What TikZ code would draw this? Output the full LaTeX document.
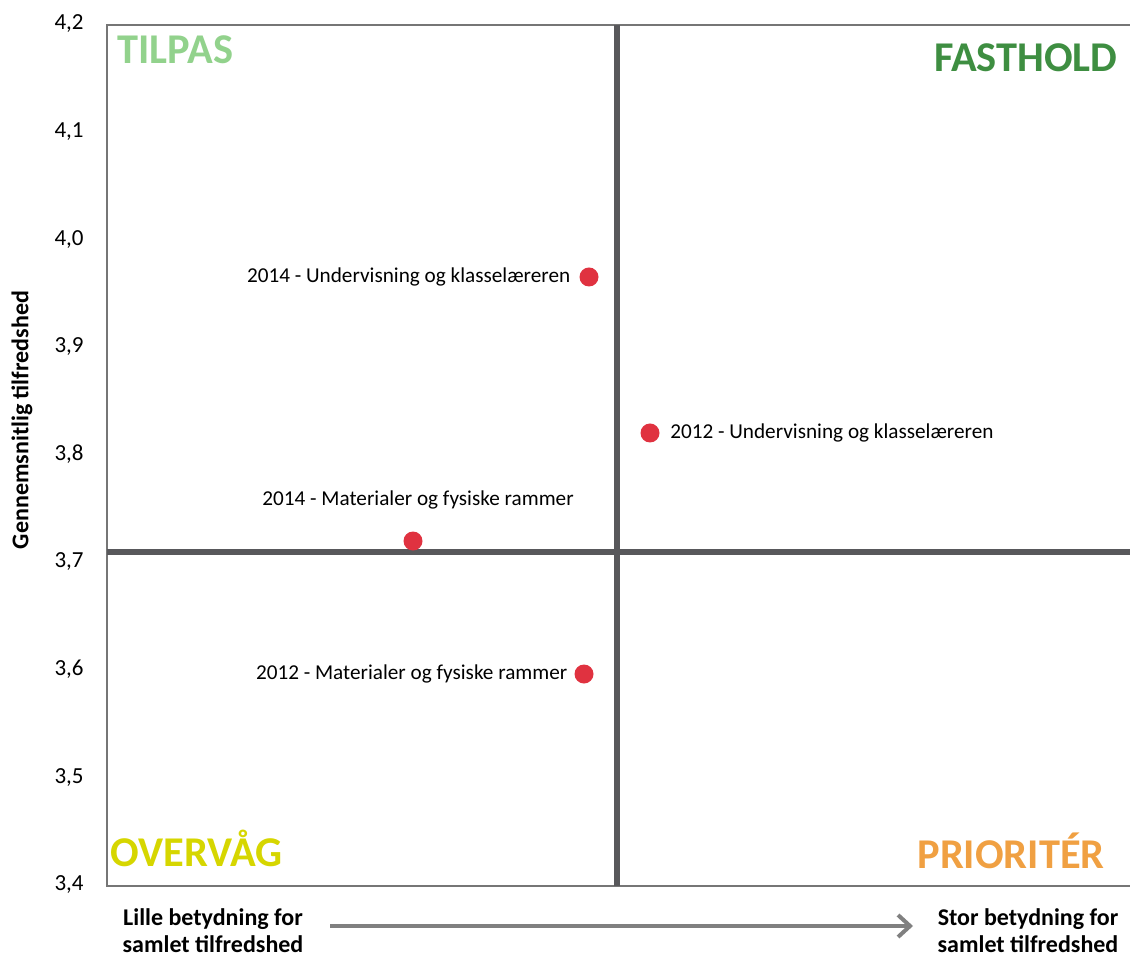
\documentclass[tikz,border=0pt]{standalone}
\usepackage{fontspec}
\setmainfont{Carlito}
\usetikzlibrary{positioning,arrows.meta}
\definecolor{gridgray}{RGB}{88,88,91}
\definecolor{framegray}{RGB}{118,118,118}
\definecolor{dotred}{RGB}{224,50,64}
\definecolor{tilpasgreen}{RGB}{146,210,140}
\definecolor{fastholdgreen}{RGB}{62,142,65}
\definecolor{overvaagyellow}{RGB}{214,214,0}
\definecolor{prioorange}{RGB}{240,160,66}
\definecolor{arrowgray}{RGB}{128,128,128}
% value on the y axis -> picture coordinate
\newcommand{\yv}[1]{(886-1076*(#1-3.4))}
\tikzset{
  dot/.style={circle,fill=dotred,inner sep=0pt,minimum size=9.5pt},
  lbl/.style={inner sep=0pt,font=\fontsize{10.6}{12.5}\selectfont},
  ticklbl/.style={inner sep=0pt,anchor=mid east,font=\fontsize{11.5}{13}\selectfont},
  quadlbl/.style={inner sep=0pt,font=\fontsize{21.2}{25}\selectfont\bfseries},
  axislbl/.style={inner sep=0pt,align=center,font=\fontsize{12}{13.5}\selectfont\bfseries}
}
\begin{document}
\begin{tikzpicture}[x=0.5pt,y=-0.5pt]
    \useasboundingbox (0,0) rectangle (1130,956);
    % frame
    \draw[framegray,line width=1pt] (1130,25) -- (107,25) -- (107,886) -- (1130,886);
    % quadrant lines
    \draw[gridgray,line width=3pt] (617,25) -- (617,886);
    \draw[gridgray,line width=3pt] (107,{\yv{3.71}}) -- (1130,{\yv{3.71}});
    % ticks
    \foreach \i in {0,...,8}{
      \pgfmathtruncatemacro\whole{(42-\i)/10}
      \pgfmathtruncatemacro\tenth{42-\i-10*\whole}
      \node[ticklbl] (tick\i) at (84,{25+107.625*\i}) {\whole,\tenth};
    };
    \node[axislbl,rotate=90] (ylabel) at (22,420) {Gennemsnitlig tilfredshed};
    % quadrants
    \node[quadlbl,text=tilpasgreen,anchor=base west] (tilpas) at (117,64) {TILPAS};
    \node[quadlbl,text=fastholdgreen,anchor=base east] (fasthold) at (1118,72) {FASTHOLD};
    \node[quadlbl,text=overvaagyellow,anchor=base west] (overvaag) at (110,866) {OVERVÅG};
    \node[quadlbl,text=prioorange,anchor=base east] (prioriter) at (1105,868) {PRIORITÉR};
    % data
    \node[dot] (u14) at (589,{\yv{3.966}}) {};
    \node[dot] (u12) at (650,{\yv{3.821}}) {};
    \node[dot] (m14) at (413,{\yv{3.7206}}) {};
    \node[dot] (m12) at (584,{\yv{3.597}}) {};
    \node[lbl,left=4.25pt of u14] (u14lbl) {2014 - Undervisning og klasselæreren};
    \node[lbl,right=5pt of u12] (u12lbl) {2012 - Undervisning og klasselæreren};
    \node[lbl,above=11pt of m14,xshift=2.5pt] (m14lbl) {2014 - Materialer og fysiske rammer};
    \node[lbl,left=3.25pt of m12] (m12lbl) {2012 - Materialer og fysiske rammer};
    % x axis
    \node[axislbl,anchor=north] (lille) at (213,908) {Lille betydning for\\samlet tilfredshed};
    \node[axislbl,anchor=north] (stor) at (1028,908) {Stor betydning for\\samlet tilfredshed};
    \coordinate (arrowstart) at (330,926);
    \coordinate (arrowend) at (913,926);
    \draw[arrowgray,line width=2pt,-{Straight Barb[length=6pt,width=11pt]}] (arrowstart) -- (arrowend);
  \end{tikzpicture}
\end{document}
